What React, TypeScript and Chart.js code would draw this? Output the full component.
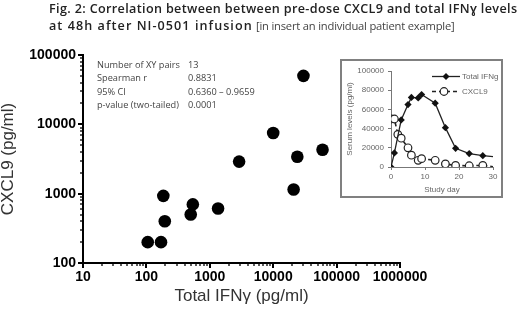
import { useEffect, useRef } from "react";
import { Chart, registerables } from "chart.js";

Chart.register(...registerables);

// ---- Main scatter: pre-dose CXCL9 vs total IFNγ ----
const totalIfnValues = [185, 540, 1350, 500, 195, 105, 170, 2900, 10000, 30000, 60000, 24000, 21000];
const cxcl9Values = [930, 700, 610, 500, 400, 200, 200, 2900, 7500, 50000, 4300, 3400, 1150];

const xRange = [10, 1000000];
const yRange = [100, 100000];

const statLabels = ["Number of XY pairs", "Spearman r", "95% CI", "p-value (two-tailed)"];
const statValues = ["13", "0.8831", "0.6360 \u2013 0.9659", "0.0001"];

// ---- Inset: individual patient example ----
const ifnDays = [0, 1, 3, 5, 6, 8, 9, 13, 16, 19, 23, 27, 30];
const ifnLevels = [0, 14700, 49000, 65000, 72500, 72000, 75500, 66500, 41000, 19500, 14000, 11800, 10800];
const cxclDays = [0, 1, 2, 3, 5, 6, 8, 9, 13, 16, 19, 23, 27, 30];
const cxclLevels = [50000, 50000, 34000, 30000, 20000, 12300, 7000, 8700, 7000, 3200, 1600, 1300, 1700, 300];

const insetLegend = ["Total IFNg", "CXCL9"];

const isPow10 = (v: number) => {
  const l = Math.log10(v);
  return Math.abs(l - Math.round(l)) < 1e-9;
};

const logTicks = (min: number, max: number) => {
  const out: { value: number }[] = [];
  const e0 = Math.round(Math.log10(min));
  const e1 = Math.round(Math.log10(max));
  for (let e = e0; e < e1; e++) {
    for (let m = 1; m < 10; m++) out.push({ value: m * Math.pow(10, e) });
  }
  out.push({ value: max });
  return out;
};

const tickMarksPlugin = {
  id: "tickMarks",
  afterDraw(chart: any) {
    const { ctx, chartArea } = chart;
    const xs = chart.scales.x;
    const ys = chart.scales.y;
    ctx.save();
    ctx.strokeStyle = "#000";
    xs.ticks.forEach((t: any) => {
      const p = Math.round(xs.getPixelForValue(t.value));
      const major = isPow10(t.value);
      ctx.lineWidth = major ? 2 : 1.3;
      ctx.beginPath();
      ctx.moveTo(p, chartArea.bottom);
      ctx.lineTo(p, chartArea.bottom + (major ? 5 : 3));
      ctx.stroke();
    });
    ys.ticks.forEach((t: any) => {
      const p = Math.round(ys.getPixelForValue(t.value));
      const major = isPow10(t.value);
      ctx.lineWidth = major ? 2 : 1.3;
      ctx.beginPath();
      ctx.moveTo(chartArea.left, p);
      ctx.lineTo(chartArea.left - (major ? 5 : 3), p);
      ctx.stroke();
    });
    ctx.restore();
  },
};

const insetLegendPlugin = {
  id: "insetLegend",
  afterDraw(chart: any) {
    const { ctx } = chart;
    ctx.save();
    const x0 = 90, x1 = 118;
    const rows = [15.5, 30.5];
    // row 1: solid line + diamond
    ctx.strokeStyle = "#222";
    ctx.lineWidth = 1.3;
    ctx.beginPath();
    ctx.moveTo(x0, rows[0]);
    ctx.lineTo(x1, rows[0]);
    ctx.stroke();
    ctx.fillStyle = "#111";
    ctx.beginPath();
    const mx = 104, r = 3.5;
    ctx.moveTo(mx, rows[0] - r);
    ctx.lineTo(mx + r, rows[0]);
    ctx.lineTo(mx, rows[0] + r);
    ctx.lineTo(mx - r, rows[0]);
    ctx.closePath();
    ctx.fill();
    // row 2: dashed line + open circle
    ctx.setLineDash([4, 3]);
    ctx.lineWidth = 1.6;
    ctx.beginPath();
    ctx.moveTo(x0, rows[1]);
    ctx.lineTo(x1, rows[1]);
    ctx.stroke();
    ctx.setLineDash([]);
    ctx.fillStyle = "#fff";
    ctx.lineWidth = 1.2;
    ctx.beginPath();
    ctx.arc(102, rows[1], 3.8, 0, Math.PI * 2);
    ctx.fill();
    ctx.stroke();
    ctx.fillStyle = "#666";
    ctx.font = "8px 'Liberation Sans', Arial, sans-serif";
    ctx.textBaseline = "middle";
    ctx.fillText(insetLegend[0], 120, rows[0]);
    ctx.fillText(insetLegend[1], 120, rows[1]);
    ctx.restore();
  },
};

export default function App() {
  const mainRef = useRef<HTMLCanvasElement>(null);
  const insetRef = useRef<HTMLCanvasElement>(null);

  useEffect(() => {
    const main = new Chart(mainRef.current!, {
      type: "scatter",
      data: {
        datasets: [
          {
            data: totalIfnValues.map((x, i) => ({ x, y: cxcl9Values[i] })),
            pointRadius: 6.3,
            pointHoverRadius: 6.3,
            backgroundColor: "#000",
            borderWidth: 0,
          },
        ],
      },
      options: {
        animation: false,
        responsive: false,
        devicePixelRatio: 1,
        layout: { padding: { left: 0, top: 55, right: 120, bottom: 0 } },
        plugins: { legend: { display: false }, tooltip: { enabled: false } },
        scales: {
          x: {
            type: "logarithmic",
            min: xRange[0],
            max: xRange[1],
            afterBuildTicks: (s: any) => {
              s.ticks = logTicks(xRange[0], xRange[1]);
            },
            afterFit: (s: any) => {
              s.height = 53;
            },
            ticks: {
              autoSkip: false,
              maxRotation: 0,
              minRotation: 0,
              padding: 6,
              color: "#000",
              font: { family: "'Liberation Sans', Arial, sans-serif", size: 14, weight: "bold" },
              callback: (v: any) => (isPow10(Number(v)) ? String(Number(v)) : ""),
            },
            grid: { display: false, drawTicks: false },
            border: { display: true, color: "#000", width: 2 },
            title: {
              display: true,
              text: "Total IFN\u03b3 (pg/ml)",
              color: "#333",
              font: { family: "'Liberation Sans', Arial, sans-serif", size: 17, lineHeight: 1.2 },
              padding: { top: 0, bottom: 9 },
            },
          },
          y: {
            type: "logarithmic",
            min: yRange[0],
            max: yRange[1],
            afterBuildTicks: (s: any) => {
              s.ticks = logTicks(yRange[0], yRange[1]);
            },
            afterFit: (s: any) => {
              s.width = 83;
            },
            ticks: {
              autoSkip: false,
              padding: 7,
              color: "#000",
              font: { family: "'Liberation Sans', Arial, sans-serif", size: 14, weight: "bold" },
              callback: (v: any) => (isPow10(Number(v)) ? String(Number(v)) : ""),
            },
            grid: { display: false, drawTicks: false },
            border: { display: true, color: "#000", width: 2 },
            title: {
              display: true,
              text: "CXCL9 (pg/ml)",
              color: "#333",
              font: { family: "'Liberation Sans', Arial, sans-serif", size: 17, lineHeight: 1 },
              padding: { top: 0, bottom: 0 },
            },
          },
        },
      },
      plugins: [tickMarksPlugin],
    } as any);

    const axisFont = { family: "'Liberation Sans', Arial, sans-serif", size: 8 };
    const inset = new Chart(insetRef.current!, {
      type: "line",
      data: {
        datasets: [
          {
            data: ifnDays.map((d, i) => ({ x: d, y: ifnLevels[i] })),
            borderColor: "#222",
            borderWidth: 1.3,
            pointStyle: "rectRot",
            pointRadius: ifnDays.map((_, i) => (i === ifnDays.length - 1 ? 0 : 3.6)),
            pointBackgroundColor: "#111",
            pointBorderColor: "#111",
            pointBorderWidth: 0,
            tension: 0,
          },
          {
            data: cxclDays.map((d, i) => ({ x: d, y: cxclLevels[i] })),
            borderColor: "#222",
            borderWidth: 1.6,
            borderDash: [4, 3],
            pointStyle: "circle",
            pointRadius: cxclDays.map((_, i) => (i === cxclDays.length - 1 ? 0 : 3.8)),
            pointBackgroundColor: "#fff",
            pointBorderColor: "#222",
            pointBorderWidth: 1.2,
            tension: 0,
          },
        ],
      },
      options: {
        animation: false,
        responsive: false,
        devicePixelRatio: 1,
        layout: { padding: { left: 0, top: 10, right: 8, bottom: 0 } },
        plugins: { legend: { display: false }, tooltip: { enabled: false } },
        scales: {
          x: {
            type: "linear",
            min: 0,
            max: 30,
            afterFit: (s: any) => {
              s.height = 29;
            },
            ticks: { stepSize: 10, color: "#666", font: axisFont, padding: 2, maxRotation: 0 },
            grid: { display: true, drawOnChartArea: false, drawTicks: true, tickLength: 3, color: "#777" },
            border: { display: true, color: "#777", width: 1 },
            title: {
              display: true,
              text: "Study day",
              color: "#666",
              font: { ...axisFont, lineHeight: 1 },
              padding: { top: 0, bottom: 2 },
            },
          },
          y: {
            min: 0,
            max: 100000,
            afterFit: (s: any) => {
              s.width = 49;
            },
            ticks: {
              stepSize: 20000,
              color: "#666",
              font: axisFont,
              padding: 4,
              callback: (v: any) => String(Number(v)),
            },
            grid: { display: true, drawOnChartArea: false, drawTicks: true, tickLength: 3, color: "#777" },
            border: { display: true, color: "#777", width: 1 },
            title: {
              display: true,
              text: "Serum levels (pg/ml)",
              color: "#666",
              font: { ...axisFont, lineHeight: 1 },
              padding: { top: 4, bottom: 0 },
            },
          },
        },
      },
      plugins: [insetLegendPlugin],
    } as any);

    return () => {
      main.destroy();
      inset.destroy();
    };
  }, []);

  const textFont = "'Open Sans', 'Noto Sans', sans-serif";

  return (
    <div
      style={{
        position: "absolute",
        left: 0,
        top: 0,
        width: 520,
        height: 316,
        background: "#fff",
        overflow: "hidden",
      }}
    >
      <canvas ref={mainRef} width={520} height={316} style={{ position: "absolute", left: 0, top: 0 }} />
      <div
        style={{
          position: "absolute",
          left: 49,
          top: 0,
          fontFamily: textFont,
          fontSize: 12.6,
          lineHeight: "17px",
          color: "#222",
          whiteSpace: "nowrap",
        }}
      >
        <div style={{ fontWeight: 600, letterSpacing: "0.35px" }}>
          Fig. 2: Correlation between between pre-dose CXCL9 and total IFN&#x0263; levels
        </div>
        <div>
          <span style={{ fontWeight: 600, letterSpacing: "1.05px" }}>at 48h after NI-0501 infusion</span>{" "}
          <span style={{ color: "#444", fontSize: 11.2, letterSpacing: "-0.2px" }}>
            [in insert an individual patient example]
          </span>
        </div>
      </div>
      <div
        style={{
          position: "absolute",
          left: 97,
          top: 58,
          fontFamily: textFont,
          fontSize: 9.2,
          lineHeight: "13.4px",
          color: "#444",
          whiteSpace: "nowrap",
        }}
      >
        {statLabels.map((l, i) => (
          <div key={l} style={{ position: "relative", height: 13.4 }}>
            <span>{l}</span>
            <span style={{ position: "absolute", left: 91 }}>{statValues[i]}</span>
          </div>
        ))}
      </div>
      <div
        style={{
          position: "absolute",
          left: 340,
          top: 59,
          width: 163,
          height: 139,
          border: "2px solid #808080",
          boxSizing: "border-box",
          background: "#fff",
        }}
      >
        <canvas ref={insetRef} width={159} height={135} style={{ display: "block" }} />
      </div>
    </div>
  );
}
